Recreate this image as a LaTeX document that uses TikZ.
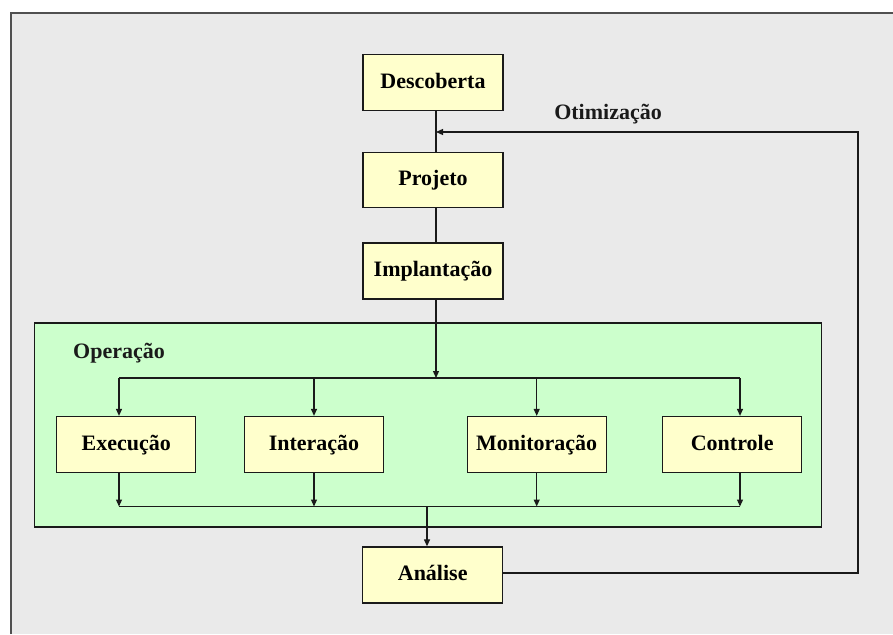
\documentclass[tikz,border=0pt]{standalone}
\usepackage{fontspec}
\setmainfont{Liberation Serif}
\usetikzlibrary{arrows.meta}
\definecolor{pagegrey}{HTML}{EAEAEA}
\definecolor{framegrey}{HTML}{505050}
\definecolor{boxyellow}{HTML}{FFFFCC}
\definecolor{opgreen}{HTML}{CCFFCC}
\definecolor{ink}{HTML}{1A1A1A}
\tikzset{
  stage/.style={draw=ink, line width=1.3pt, fill=boxyellow, minimum width=140pt,
    minimum height=56pt, inner sep=0pt, text height=15pt, text depth=4pt,
    font=\fontsize{22}{26}\selectfont\bfseries},
  label/.style={font=\fontsize{22}{26}\selectfont\bfseries, text=ink, inner sep=0pt,
    text height=15pt, text depth=4pt},
  flow/.style={draw=ink, line width=1.2pt},
  flowarrow/.style={flow, -{Triangle[length=7pt,width=6pt]}}
}
\begin{document}
\begin{tikzpicture}[x=1pt,y=-1pt]
\useasboundingbox (0,0) rectangle (893,634);
% window background and its edge
\fill[white] (0,0) rectangle (893,634);
\fill[pagegrey] (11,13) rectangle (893,634);
\draw[framegrey, line width=1.5pt] (11,634) -- (11,13) -- (893,13);

% operation area
\node[draw=ink, line width=1.3pt, fill=opgreen, minimum width=787pt, minimum height=204pt,
  inner sep=0pt] (op) at (428,425) {};
\node[label, anchor=west] (oplabel) at (73,353) {Operação};

% lifecycle stages
\node[stage] (desc) at (433,82.5) {Descoberta};
\node[stage, minimum height=55pt] (proj) at (433,180.2) {Projeto};
\node[stage] (impl) at (433,271) {Implantação};
\node[stage, minimum width=139pt] (exec) at (126.3,444.5) {Execução};
\node[stage, minimum width=139pt] (inter) at (314,444.5) {Interação};
\node[stage, minimum width=139pt] (mon) at (536.7,444.5) {Monitoração};
\node[stage, minimum width=139pt] (ctrl) at (732.2,444.5) {Controle};
\node[stage] (anal) at (432.7,575) {Análise};
\node[label] (otim) at (608,114) {Otimização};

% bus lines inside the operation area
\coordinate (topL) at (119,378);
\coordinate (topR) at (740,378);
\coordinate (botL) at (119,506.5);
\coordinate (botR) at (740,506.5);
\coordinate (split) at (436,378);
\coordinate (merge) at (427,506.5);

% main chain
\draw[flow] (desc.south -| split) -- (proj.north -| split);
\draw[flow] (proj.south -| split) -- (impl.north -| split);
\draw[flowarrow] (impl.south -| split) -- (split);
\draw[flow] (topL) -- (topR);
\draw[flowarrow] (topL) -- (exec.north -| topL);
\draw[flowarrow] (inter.north |- topL) -- (inter.north);
\draw[flowarrow] (mon.north |- topL) -- (mon.north);
\draw[flowarrow] (topR) -- (ctrl.north -| topR);

\draw[flow] (botL) -- (botR);
\draw[flowarrow] (exec.south -| botL) -- (botL);
\draw[flowarrow] (inter.south) -- (inter.south |- botL);
\draw[flowarrow] (mon.south) -- (mon.south |- botL);
\draw[flowarrow] (ctrl.south -| botR) -- (botR);
\draw[flowarrow] (merge) -- (anal.north -| merge);

% optimisation feedback loop
\coordinate (loopB) at (858,573);
\coordinate (loopT) at (858,132);
\draw[flowarrow] (anal.east |- loopB) -- (loopB) -- (loopT) -- (loopT -| split);
\end{tikzpicture}
\end{document}
